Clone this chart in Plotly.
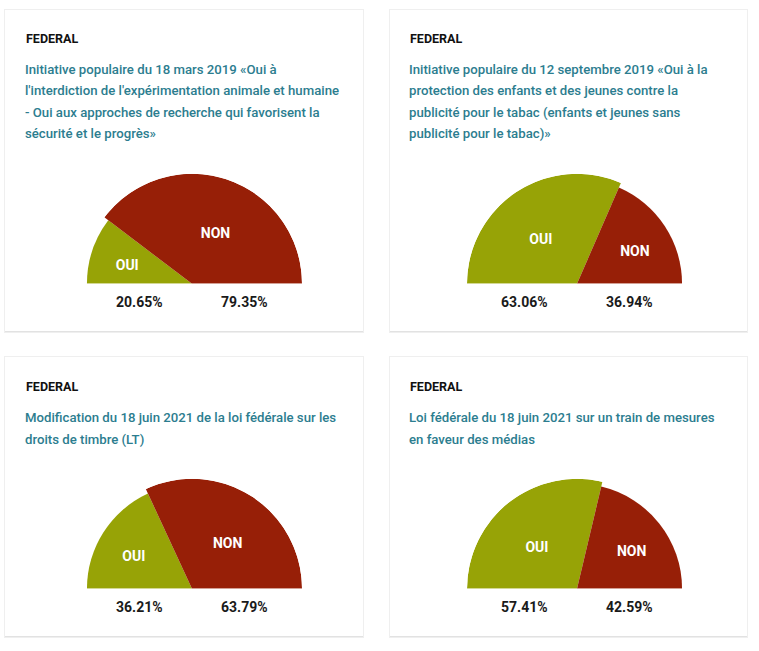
import math
import plotly.graph_objects as go

# ---------------- data ----------------
categories = ["OUI", "NON"]
region_labels = ["FEDERAL", "FEDERAL", "FEDERAL", "FEDERAL"]
oui_pct = [20.65, 63.06, 36.21, 57.41]
non_pct = [79.35, 36.94, 63.79, 42.59]
title_lines = [
    ["Initiative populaire du 18 mars 2019 «Oui à",
     "l'interdiction de l'expérimentation animale et humaine",
     "- Oui aux approches de recherche qui favorisent la",
     "sécurité et le progrès»"],
    ["Initiative populaire du 12 septembre 2019 «Oui à la",
     "protection des enfants et des jeunes contre la",
     "publicité pour le tabac (enfants et jeunes sans",
     "publicité pour le tabac)»"],
    ["Modification du 18 juin 2021 de la loi fédérale sur les",
     "droits de timbre (LT)"],
    ["Loi fédérale du 18 juin 2021 sur un train de mesures",
     "en faveur des médias"],
]

# ---------------- style / layout ----------------
W, H = 759, 651
OUI_COLOR = "#97a306"
NON_COLOR = "#971f07"
TEAL = "#2c7d8f"
FONT = "Roboto"

col_card_x = [(5, 363), (390, 747)]
row_card_y = [(10, 331), (357, 636)]
col_text_x = [24, 408]
row_head_y = [38, 386.7]
row_desc_y = [69.3, 417.7]
line_step = 21.4
col_cx = [192, 577]
row_cy = [283.8, 588.8]
R = 110          # px radius of the larger slice
LOSER = 0.955    # relative radius of the smaller slice
LABEL_DIST_WIN = 55
LABEL_DIST_LOSE = 62
LABEL_SHIFT_X = 6
LABEL_SHIFT_Y = 2.5


def px(x):
    return x / W


def py(y):
    return 1 - y / H


fig = go.Figure()
shapes = []
annotations = []
layout_polars = {}

for i in range(4):
    row, col = divmod(i, 2)
    x0, x1 = col_card_x[col]
    y0, y1 = row_card_y[row]
    # card shadow + card
    shapes.append(dict(type="rect", xref="paper", yref="paper", layer="below",
                       x0=px(x0 - 1), x1=px(x1 + 1), y0=py(y1 + 2), y1=py(y0 - 1),
                       fillcolor="#efefef", line=dict(width=0)))
    shapes.append(dict(type="rect", xref="paper", yref="paper", layer="below",
                       x0=px(x0), x1=px(x1), y0=py(y1 + 1), y1=py(y0),
                       fillcolor="#e2e2e2", line=dict(width=0)))
    shapes.append(dict(type="rect", xref="paper", yref="paper", layer="below",
                       x0=px(x0), x1=px(x1), y0=py(y1), y1=py(y0),
                       fillcolor="#ffffff", line=dict(width=0)))

    # heading
    annotations.append(dict(xref="paper", yref="paper", x=px(col_text_x[col]),
                            y=py(row_head_y[row]), xanchor="left", yanchor="middle",
                            showarrow=False, text="<b>%s</b>" % region_labels[i],
                            font=dict(family=FONT, size=12.5, color="#111111")))
    # description lines
    for k, line in enumerate(title_lines[i]):
        annotations.append(dict(xref="paper", yref="paper", x=px(col_text_x[col] - 1),
                                y=py(row_desc_y[row] + k * line_step),
                                xanchor="left", yanchor="middle", showarrow=False,
                                text=line,
                                font=dict(family=FONT, size=13.2, color=TEAL, weight=500)))

    vals = [oui_pct[i], non_pct[i]]
    total = sum(vals)
    spans = [v / total * 180 for v in vals]
    centers = [spans[0] / 2, spans[0] + spans[1] / 2]
    win = 0 if vals[0] >= vals[1] else 1
    radii = [1.0 if j == win else LOSER for j in range(2)]

    # label placement (mid-angle, pushed slightly outward/down)
    lab_r, lab_t = [], []
    for j in range(2):
        dist = LABEL_DIST_WIN if j == win else LABEL_DIST_LOSE
        a = math.radians(centers[j])
        dx = -math.cos(a) * dist + (-1 if j == 0 else 1) * LABEL_SHIFT_X
        dy = -math.sin(a) * dist + LABEL_SHIFT_Y
        lab_r.append(math.hypot(dx, dy) / R)
        lab_t.append(math.degrees(math.atan2(-dy, -dx)))

    pid = "polar" if i == 0 else "polar%d" % (i + 1)
    cx, cy = col_cx[col], row_cy[row]
    layout_polars[pid] = dict(
        domain=dict(x=[px(cx - R), px(cx + R)], y=[py(cy), py(cy - R)]),
        sector=[0, 180],
        bgcolor="rgba(0,0,0,0)",
        radialaxis=dict(visible=False, range=[0, 1]),
        angularaxis=dict(visible=False, direction="clockwise", rotation=180,
                         thetaunit="degrees"),
    )

    fig.add_trace(go.Barpolar(
        r=radii, theta=centers, width=spans, subplot=pid,
        marker=dict(color=[OUI_COLOR, NON_COLOR], line=dict(width=0)),
        hoverinfo="skip", showlegend=False))
    fig.add_trace(go.Scatterpolar(
        r=lab_r, theta=lab_t, subplot=pid, mode="text",
        text=["<b>%s</b>" % c for c in categories],
        textposition="middle center",
        textfont=dict(family=FONT, size=14, color="#ffffff"),
        hoverinfo="skip", showlegend=False, cliponaxis=False))

    # percentages below
    for j, sgn in enumerate([-1, 1]):
        annotations.append(dict(xref="paper", yref="paper", x=px(cx + sgn * 52.5),
                                y=py(cy + 18.3), xanchor="center", yanchor="middle",
                                showarrow=False, text="<b>%.2f%%</b>" % vals[j],
                                font=dict(family=FONT, size=14, color="#1a1a1a")))

fig.update_layout(
    width=W, height=H, margin=dict(l=0, r=0, t=0, b=0),
    paper_bgcolor="#ffffff", plot_bgcolor="#ffffff",
    shapes=shapes, annotations=annotations, showlegend=False,
    **layout_polars,
)

fig.write_html("out.html",
               config={"displayModeBar": False, "staticPlot": True},
               post_script="document.body.style.margin='0';"
                           "document.body.style.overflow='hidden';")
